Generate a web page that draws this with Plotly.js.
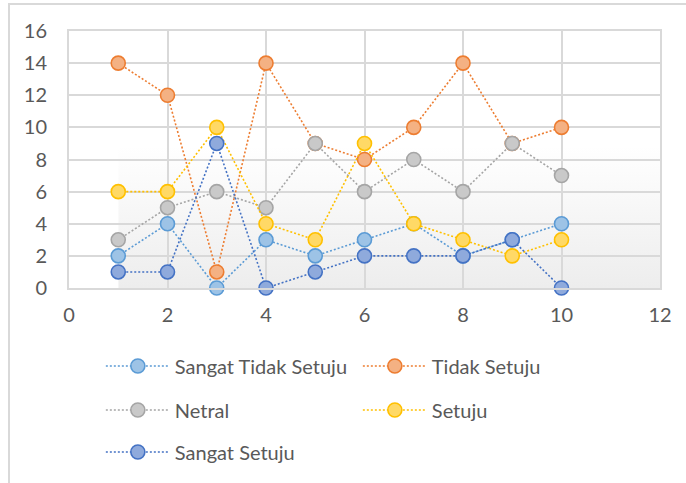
<!DOCTYPE html>
<html>
<head>
<meta charset="utf-8">
<script src="https://cdn.plot.ly/plotly-3.0.1.min.js"></script>
<style>
html,body{margin:0;padding:0;background:#fff;}
#frame{position:absolute;left:8px;top:3px;width:690px;height:490px;border-top:2px solid #d9d9d9;border-left:2px solid #d9d9d9;}
#chart{position:absolute;left:0;top:0;width:686px;height:483px;}
</style>
</head>
<body>
<div id="frame"></div>
<div id="chart"></div>
<script>
var xValues = [1, 2, 3, 4, 5, 6, 7, 8, 9, 10];
var seriesNames = ["Sangat Tidak Setuju", "Tidak Setuju", "Netral", "Setuju", "Sangat Setuju"];
var sangatTidakSetuju = [2, 4, 0, 3, 2, 3, 4, 2, 3, 4];
var tidakSetuju = [14, 12, 1, 14, 9, 8, 10, 14, 9, 10];
var netral = [3, 5, 6, 5, 9, 6, 8, 6, 9, 7];
var setuju = [6, 6, 10, 4, 3, 9, 4, 3, 2, 3];
var sangatSetuju = [1, 1, 9, 0, 1, 2, 2, 2, 3, 0];
var xTicks = [0, 2, 4, 6, 8, 10, 12];
var yTicks = [0, 2, 4, 6, 8, 10, 12, 14, 16];

var lineColors = ["#5b9bd5", "#ed7d31", "#a5a5a5", "#ffc000", "#4472c4"];
var fillColors = ["#9dc3e6", "#f4b183", "#c9c9c9", "#ffd966", "#8faadc"];
var legendIds = ["legend", "legend", "legend2", "legend2", "legend3"];
var allSeries = [sangatTidakSetuju, tidakSetuju, netral, setuju, sangatSetuju];

var traces = allSeries.map(function (ys, i) {
  return {
    type: "scatter",
    mode: "lines+markers",
    name: seriesNames[i],
    x: xValues,
    y: ys,
    legend: legendIds[i],
    line: {color: lineColors[i], width: 1.6, dash: "2px,2px"},
    marker: {size: 14, color: fillColors[i], line: {color: lineColors[i], width: 1.6}},
    cliponaxis: false
  };
});

var FONT = "Lato, 'Noto Sans', sans-serif";
var tickFont = {family: FONT, size: 20, color: "#595959"};
var legendBase = {
  orientation: "h",
  xref: "container", yref: "container",
  x: 0.147, xanchor: "left", yanchor: "middle",
  font: {family: FONT, size: 20, color: "#595959"},
  bgcolor: "rgba(0,0,0,0)",
  itemwidth: 64,
  entrywidth: 178, entrywidthmode: "pixels",
  traceorder: "normal"
};
function legendAt(yPix) {
  var o = JSON.parse(JSON.stringify(legendBase));
  o.y = 1 - yPix / 483;
  return o;
}

var gradSvg = '<svg xmlns="http://www.w3.org/2000/svg" width="100" height="100" preserveAspectRatio="none">' +
  '<defs><linearGradient id="g" x1="0" y1="0" x2="0" y2="1">' +
  '<stop offset="0" stop-color="#ffffff"/><stop offset="0.45" stop-color="#ffffff"/>' +
  '<stop offset="1" stop-color="#ededed"/></linearGradient></defs>' +
  '<rect width="100" height="100" fill="url(#g)"/></svg>';

var layout = {
  width: 686, height: 483,
  margin: {l: 69, r: 26, t: 31, b: 195},
  paper_bgcolor: "rgba(0,0,0,0)",
  plot_bgcolor: "#ffffff",
  showlegend: true,
  xaxis: {
    range: [0, 12], tickvals: xTicks, ticktext: xTicks.map(String),
    showgrid: true, gridcolor: "#d9d9d9", gridwidth: 2,
    showline: true, linecolor: "#d9d9d9", linewidth: 2, mirror: true,
    zeroline: false, ticks: "", tickfont: tickFont, ticklabelstandoff: 8,
    fixedrange: true
  },
  yaxis: {
    range: [0, 16], tickvals: yTicks, ticktext: yTicks.map(String),
    showgrid: true, gridcolor: "#d9d9d9", gridwidth: 2,
    showline: true, linecolor: "#d9d9d9", linewidth: 2, mirror: true,
    zeroline: false, ticks: "", tickfont: tickFont, ticklabelstandoff: 16,
    fixedrange: true
  },
  images: [{
    source: "data:image/svg+xml;charset=utf-8," + encodeURIComponent(gradSvg),
    xref: "x", yref: "y", x: 1, y: 16, sizex: 11, sizey: 16,
    sizing: "stretch", layer: "below", xanchor: "left", yanchor: "top"
  }],
  legend: legendAt(366),
  legend2: legendAt(410),
  legend3: legendAt(452)
};

Plotly.newPlot("chart", traces, layout, {displayModeBar: false, staticPlot: true});
</script>
</body>
</html>
